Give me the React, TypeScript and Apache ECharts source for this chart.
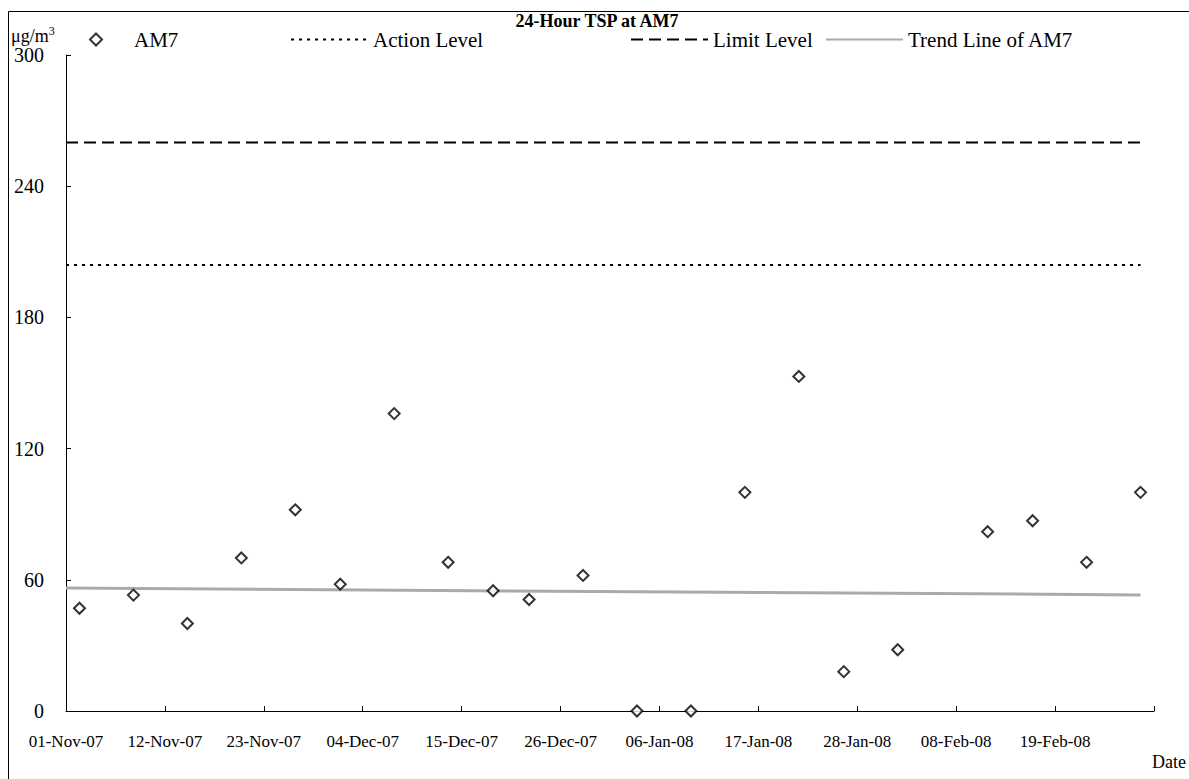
import React, { useEffect, useRef } from "react";
import * as echarts from "echarts";

// ---- data ----
const sampleDates = [
  "2007-11-02", "2007-11-08", "2007-11-14", "2007-11-20", "2007-11-26",
  "2007-12-01", "2007-12-07", "2007-12-13", "2007-12-18", "2007-12-22",
  "2007-12-28", "2008-01-03", "2008-01-09", "2008-01-15", "2008-01-21",
  "2008-01-26", "2008-02-01", "2008-02-11", "2008-02-16", "2008-02-22",
  "2008-02-28",
];
const am7Values = [47, 53, 40, 70, 92, 58, 136, 68, 55, 51, 62, 0, 0, 100, 153, 18, 28, 82, 87, 68, 100];
const actionLevel = 204;
const limitLevel = 260;
const trendValues = [56.2, 53.1]; // trend line at axis start and at last sample
const axisStartDate = "2007-11-01";
const axisEndDate = "2008-03-01";
const tickStepDays = 11;
const yTicks = [0, 60, 120, 180, 240, 300];

const DAY = 86400000;
const MONTHS = ["Jan", "Feb", "Mar", "Apr", "May", "Jun", "Jul", "Aug", "Sep", "Oct", "Nov", "Dec"];
const t0 = Date.parse(axisStartDate + "T00:00:00Z");
const dayOf = (d: string) => Math.round((Date.parse(d + "T00:00:00Z") - t0) / DAY);
const xMax = dayOf(axisEndDate);
const fmt = (v: number) => {
  const d = new Date(t0 + v * DAY);
  const dd = String(d.getUTCDate()).padStart(2, "0");
  const yy = String(d.getUTCFullYear() % 100).padStart(2, "0");
  return `${dd}-${MONTHS[d.getUTCMonth()]}-${yy}`;
};

const FONT = "Liberation Serif";

export default function App() {
  const ref = useRef<HTMLDivElement>(null);
  useEffect(() => {
    if (!ref.current) return;
    const chart = echarts.init(ref.current, undefined, { renderer: "svg" });
    const pts = sampleDates.map((d, i) => [dayOf(d) + 0.5, am7Values[i]]);
    const xEnd = dayOf(sampleDates[sampleDates.length - 1]) + 0.5;
    const legendBase = {
      top: 29,
      itemWidth: 77,
      itemHeight: 14,
      padding: 0,
      textStyle: { fontFamily: FONT, fontSize: 21, lineHeight: 21, color: "#000" },
      itemStyle: { opacity: 0, borderWidth: 0 },
    };
    chart.setOption({
      animation: false,
      backgroundColor: "#fff",
      grid: { left: 66, right: 35, top: 55, bottom: 68, containLabel: false },
      xAxis: {
        type: "value",
        min: 0,
        max: xMax,
        interval: tickStepDays,
        axisLine: { show: true, lineStyle: { color: "#000", width: 1 } },
        axisTick: { show: true, inside: true, length: 5, lineStyle: { color: "#000" } },
        splitLine: { show: false },
        axisLabel: {
          margin: 22,
          fontFamily: FONT,
          fontSize: 17,
          color: "#000",
          formatter: (v: number) => (v >= xMax ? "" : fmt(v)),
        },
      },
      yAxis: {
        type: "value",
        min: yTicks[0],
        max: yTicks[yTicks.length - 1],
        interval: yTicks[1] - yTicks[0],
        axisLine: { show: true, lineStyle: { color: "#000", width: 1 } },
        axisTick: { show: true, inside: true, length: 5, lineStyle: { color: "#000" } },
        splitLine: { show: false },
        axisLabel: { margin: 22, fontFamily: FONT, fontSize: 20, color: "#000" },
      },
      legend: [
        {
          ...legendBase,
          left: 89,
          data: ["AM7"],
          itemWidth: 12,
          itemHeight: 12,
          icon: "diamond",
          itemStyle: { color: "#fff", borderColor: "#000", borderWidth: 2 },
          textStyle: { ...legendBase.textStyle, padding: [0, 0, 0, 27] },
        },
        { ...legendBase, left: 290, data: ["Action Level"] },
        { ...legendBase, left: 630, data: ["Limit Level"] },
        { ...legendBase, left: 825, data: ["Trend Line of AM7"] },
      ],
      graphic: [
        {
          type: "rect",
          shape: { x: 8.5, y: 11.5, width: 1200, height: 800 },
          style: { fill: "none", stroke: "#000", lineWidth: 1 },
          silent: true,
        },
        {
          type: "text",
          x: 597,
          y: 21,
          style: {
            text: "24-Hour TSP at AM7",
            font: `bold 18px "${FONT}"`,
            fill: "#000",
            textAlign: "center",
            textVerticalAlign: "middle",
          },
        },
        {
          type: "text",
          x: 11,
          y: 25,
          style: {
            text: "{a|μg/m}{b|3}",
            fill: "#000",
            rich: {
              a: { fontFamily: FONT, fontSize: 18, fill: "#000" },
              b: { fontFamily: FONT, fontSize: 12, fill: "#000", padding: [0, 0, 9, 0] },
            },
          },
        },
        {
          type: "text",
          x: 1186,
          y: 762,
          style: {
            text: "Date",
            font: `18px "${FONT}"`,
            fill: "#000",
            textAlign: "right",
            textVerticalAlign: "middle",
          },
        },
      ],
      series: [
        {
          name: "Trend Line of AM7",
          type: "line",
          data: [[0, trendValues[0]], [xEnd, trendValues[1]]],
          symbol: "none",
          lineStyle: { color: "#aaaaaa", width: 3 },
          itemStyle: { color: "#aaaaaa" },
          z: 2,
        },
        {
          name: "Action Level",
          type: "line",
          data: [[0, actionLevel], [xEnd, actionLevel]],
          symbol: "none",
          lineStyle: { color: "#000", width: 2, type: [3, 5] },
          itemStyle: { color: "#000" },
          z: 3,
        },
        {
          name: "Limit Level",
          type: "line",
          data: [[0, limitLevel], [xEnd, limitLevel]],
          symbol: "none",
          lineStyle: { color: "#000", width: 2, type: [12, 6] },
          itemStyle: { color: "#000" },
          z: 3,
        },
        {
          name: "AM7",
          type: "scatter",
          data: pts,
          symbol: "diamond",
          symbolSize: 11,
          clip: false,
          itemStyle: { color: "#fff", borderColor: "#000", borderWidth: 2 },
          z: 5,
        },
      ],
    });
    return () => chart.dispose();
  }, []);
  return (
    <div
      ref={ref}
      style={{ position: "fixed", left: 0, top: 0, width: 1189, height: 779, background: "#fff" }}
    />
  );
}
